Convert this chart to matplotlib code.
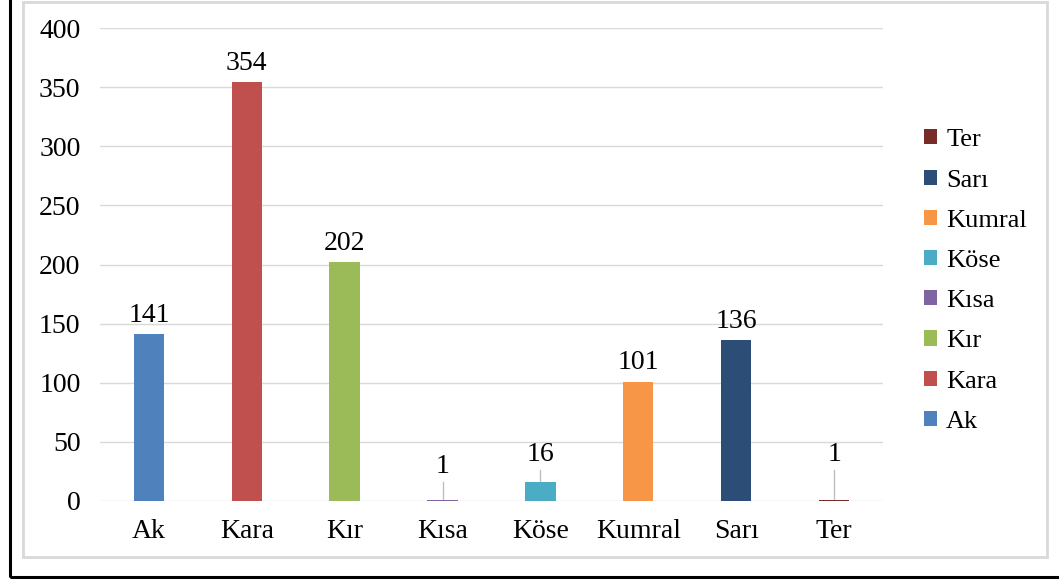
import matplotlib.pyplot as plt
from matplotlib.patches import Rectangle

# data
cats = ['Ak', 'Kara', 'Kır', 'Kısa', 'Köse', 'Kumral', 'Sarı', 'Ter']
vals = [141, 354, 202, 1, 16, 101, 136, 1]
colors = ['#4F81BD', '#C0504D', '#9BBB59', '#8064A2', '#4BACC6', '#F79646', '#2C4D75', '#772C2A']
yticks = [0, 50, 100, 150, 200, 250, 300, 350, 400]

plt.rcParams['font.family'] = ['Liberation Serif', 'DejaVu Serif']
FS = 20

fig = plt.figure(figsize=(10.59, 5.81), dpi=100)

# outer black frame and inner grey frame
fig.patches.append(Rectangle((0.009, 0.007), 1.2, 1.2, transform=fig.transFigure,
                             fill=False, edgecolor='black', linewidth=2.2))
fig.patches.append(Rectangle((0.022, 0.041), 0.967, 0.955, transform=fig.transFigure,
                             fill=False, edgecolor='#D9D9D9', linewidth=2))

ax = fig.add_axes([0.0944, 0.1377, 0.7394, 0.8141])
x = range(len(cats))
for i in x:
    ax.bar(i, vals[i], width=0.31, color=colors[i], label=cats[i], zorder=3)

ax.set_xlim(-0.5, len(cats) - 0.5)
ax.set_ylim(0, 400)
ax.set_yticks(yticks)
ax.set_xticks(list(x))
ax.set_xticklabels(cats)
ax.tick_params(length=0, labelsize=FS, colors='black')
ax.tick_params(axis='y', pad=14)
ax.tick_params(axis='x', pad=13)
ax.grid(axis='y', color='#D9D9D9', linewidth=1, zorder=0)
for s in ax.spines.values():
    s.set_visible(False)

# value labels, small ones lifted with a leader line
for i in x:
    v = vals[i]
    if v < 30:
        lab_y = 19 if i == 3 else 29
        ax.plot([i, i], [v, lab_y - 3], color='#BFBFBF', linewidth=1, zorder=2)
        ax.text(i, lab_y, str(v), ha='center', va='bottom', fontsize=FS)
    else:
        ax.annotate(str(v), (i, v), xytext=(0, 4.5), textcoords='offset points',
                    ha='center', va='bottom', fontsize=FS)

h, l = ax.get_legend_handles_labels()
ax.legend(h[::-1], l[::-1], loc='center left', bbox_to_anchor=(1.052, 0.465),
          frameon=False, fontsize=19, handlelength=0.5, handleheight=0.5,
          handletextpad=0.35, labelspacing=0.69, borderaxespad=0, borderpad=0)

fig.savefig('out.png', dpi=100)
